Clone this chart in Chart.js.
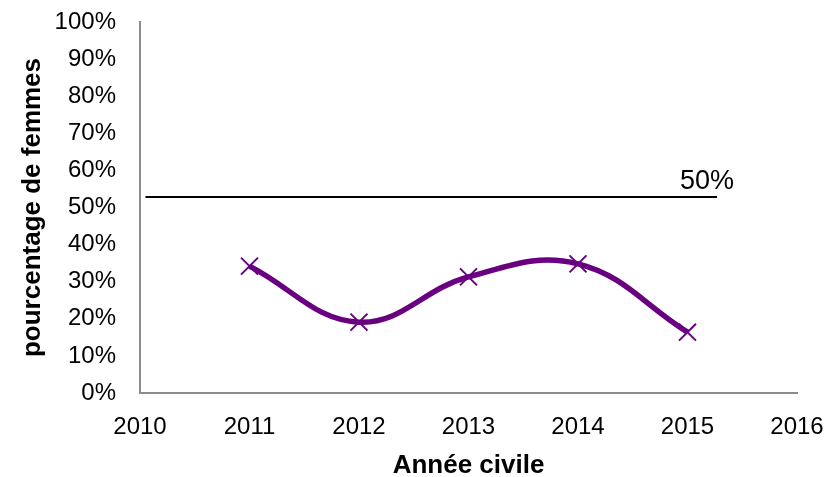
<!DOCTYPE html>
<html>
<head>
<meta charset="utf-8">
<script src="https://cdn.jsdelivr.net/npm/chart.js@4"></script>
<style>
  html, body { margin: 0; padding: 0; background: #fff; }
  #wrap { width: 825px; height: 477px; }
</style>
</head>
<body>
<div id="wrap"><canvas id="chart" width="825" height="477"></canvas></div>
<script>
const years = [2011, 2012, 2013, 2014, 2015];
const womenShare = [34.2, 19.1, 31.3, 34.8, 16.4];
const refYears = [2010.05, 2015.27];
const refValues = [52.8, 52.8];
const refLabel = '50%';
const xTicks = [2010, 2011, 2012, 2013, 2014, 2015, 2016];
const yTicks = [0, 10, 20, 30, 40, 50, 60, 70, 80, 90, 100];

const FONT = '"Liberation Sans", Arial, sans-serif';
const purple = '#680080';
const axisGrey = '#8c8c8c';

// draws the "50%" text above the end of the reference line
const refLabelPlugin = {
  id: 'refLabel',
  afterDatasetsDraw(chart) {
    const ctx = chart.ctx;
    const x = chart.scales.x.getPixelForValue(refYears[1]);
    const y = chart.scales.y.getPixelForValue(refValues[1]);
    ctx.save();
    ctx.font = '27px ' + FONT;
    ctx.fillStyle = '#000';
    ctx.textAlign = 'right';
    ctx.textBaseline = 'alphabetic';
    ctx.fillText(refLabel, x + 17, y - 8);
    ctx.restore();
  }
};

new Chart(document.getElementById('chart'), {
  type: 'line',
  data: {
    datasets: [
      {
        label: 'ref',
        data: refYears.map((x, i) => ({ x: x, y: refValues[i] })),
        borderColor: '#000',
        borderWidth: 2,
        pointRadius: 0,
        tension: 0
      },
      {
        label: 'femmes',
        data: years.map((x, i) => ({ x: x, y: womenShare[i] })),
        borderColor: purple,
        borderWidth: 5.5,
        tension: 0.4,
        pointStyle: 'crossRot',
        pointRadius: 12,
        pointBorderWidth: 2,
        pointBorderColor: purple,
        pointBackgroundColor: purple
      }
    ]
  },
  options: {
    responsive: false,
    animation: false,
    layout: { padding: { top: 22, right: 28, left: 0, bottom: 0 } },
    plugins: { legend: { display: false }, tooltip: { enabled: false } },
    scales: {
      x: {
        type: 'linear',
        min: 2010,
        max: 2016,
        afterBuildTicks: (scale) => {
          scale.ticks = xTicks.map((v) => ({ value: v }));
        },
        grid: { display: false, drawTicks: false },
        border: { color: axisGrey, width: 2 },
        ticks: {
          padding: 20,
          color: '#000',
          font: { family: FONT, size: 24 },
          callback: (v) => String(v)
        },
        title: {
          display: true,
          text: 'Année civile',
          color: '#000',
          font: { family: FONT, size: 26, weight: 'bold' },
          padding: { top: 4, bottom: -4 }
        },
        afterFit: (scale) => {
          scale.height = 84;
          scale.paddingLeft = 0;
          scale.paddingRight = 0;
        }
      },
      y: {
        min: 0,
        max: 100,
        afterBuildTicks: (scale) => {
          scale.ticks = yTicks.map((v) => ({ value: v }));
        },
        grid: { display: false, drawTicks: false },
        border: { color: axisGrey, width: 2 },
        ticks: {
          padding: 24,
          color: '#000',
          font: { family: FONT, size: 24 },
          callback: (v) => v + '%'
        },
        title: {
          display: true,
          text: 'pourcentage de femmes',
          color: '#000',
          font: { family: FONT, size: 26, weight: 'bold' },
          padding: { top: 17, bottom: 4 }
        },
        afterFit: (scale) => {
          scale.width = 140;
          scale.paddingTop = 0;
          scale.paddingBottom = 0;
        }
      }
    }
  },
  plugins: [refLabelPlugin]
});
</script>
</body>
</html>
